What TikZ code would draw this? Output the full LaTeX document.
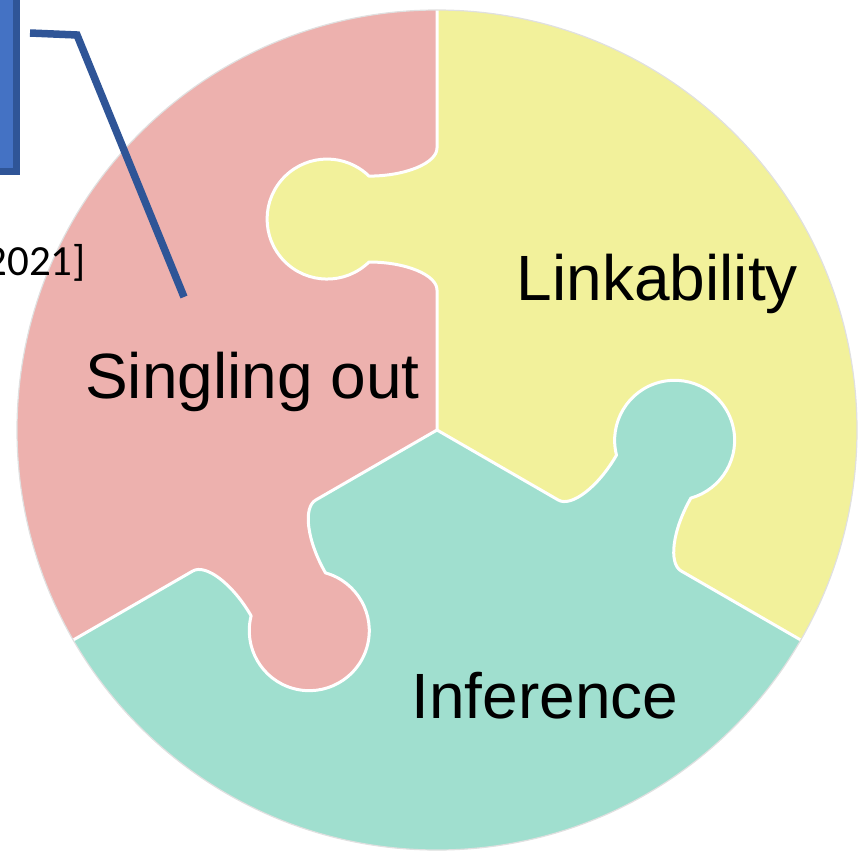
\documentclass[tikz,border=0pt]{standalone}
\usepackage{fontspec}
\newfontfamily\labelfont{Liberation Sans}
\newfontfamily\citefont{Carlito}
\definecolor{piecepink}{HTML}{EDB1AE}
\definecolor{pieceyellow}{HTML}{F2F19B}
\definecolor{piecegreen}{HTML}{A0DFCF}
\definecolor{boxfill}{HTML}{4472C4}
\definecolor{boxedge}{HTML}{2F5597}
\tikzset{
  seam/.style={draw=white, line width=3pt, line join=round},
  rim/.style={draw=black!12, line width=1.2pt},
  piecelabel/.style={font=\labelfont\fontsize{64}{70}\selectfont, text=black, anchor=base, inner sep=0pt},
  citelabel/.style={font=\citefont\fontsize{43}{48}\selectfont, text=black, anchor=base east, inner sep=0pt},
  notebox/.style={draw=boxedge, fill=boxfill, line width=7pt, outer sep=0pt, inner sep=0pt},
  leader/.style={draw=boxedge, line width=7.5pt, line join=miter}
}
\begin{document}
\begin{tikzpicture}[x=1pt, y=1pt]
\useasboundingbox (0,0) rectangle (858,-856);
\clip (0,0) rectangle (858,-856);

\coordinate (C) at (437,-430);
\def\R{420}

% the three sectors
\fill[piecepink]   (C) -- ++(90:\R)  arc[start angle=90,  end angle=210, radius=\R] -- cycle;
\fill[pieceyellow] (C) -- ++(-30:\R) arc[start angle=-30, end angle=90,  radius=\R] -- cycle;
\fill[piecegreen]  (C) -- ++(210:\R) arc[start angle=210, end angle=330, radius=\R] -- cycle;

% the knobs, one on each radial seam
\foreach \ang/\col in {90/pieceyellow, -30/piecegreen, 210/piecepink}{
  \begin{scope}[shift={(C)}, rotate=\ang]
    \fill[\col] (138,-1) -- (140,0) .. controls (155,0) and (168,31) .. (168,68)
      arc[start angle=224.3, end angle=-44.3, radius=60]
      .. controls (254,31) and (267,0) .. (282,0) -- (284,-1) -- cycle;
  \end{scope}
}

% white seams between the pieces
\foreach \ang in {90, -30, 210}{
  \begin{scope}[shift={(C)}, rotate=\ang]
    \draw[seam] (0,0) -- (140,0) .. controls (155,0) and (168,31) .. (168,68)
      arc[start angle=224.3, end angle=-44.3, radius=60]
      .. controls (254,31) and (267,0) .. (282,0) -- (\R,0);
  \end{scope}
}

% outer rim
\draw[rim] (C) circle[radius=\R];

% labels
\node[piecelabel] (single) at (252.5,-398) {Singling out};
\node[piecelabel] (link)   at (657.5,-300) {Linkability};
\node[piecelabel] (infer)  at (545,-718)   {Inference};
\node[citelabel]  (cite)   at (86,-275)    {2021]};

% callout box and its leader line
\node[notebox, minimum width=60pt, minimum height=220pt, anchor=south east] (note) at (16.5,-171.5) {};
\coordinate (leadstart) at (30,-33);
\coordinate (leadbend)  at (77,-35);
\coordinate (leadtip)   at (184,-297);
\draw[leader] (leadstart) -- (leadbend) -- (leadtip);
\end{tikzpicture}
\end{document}
